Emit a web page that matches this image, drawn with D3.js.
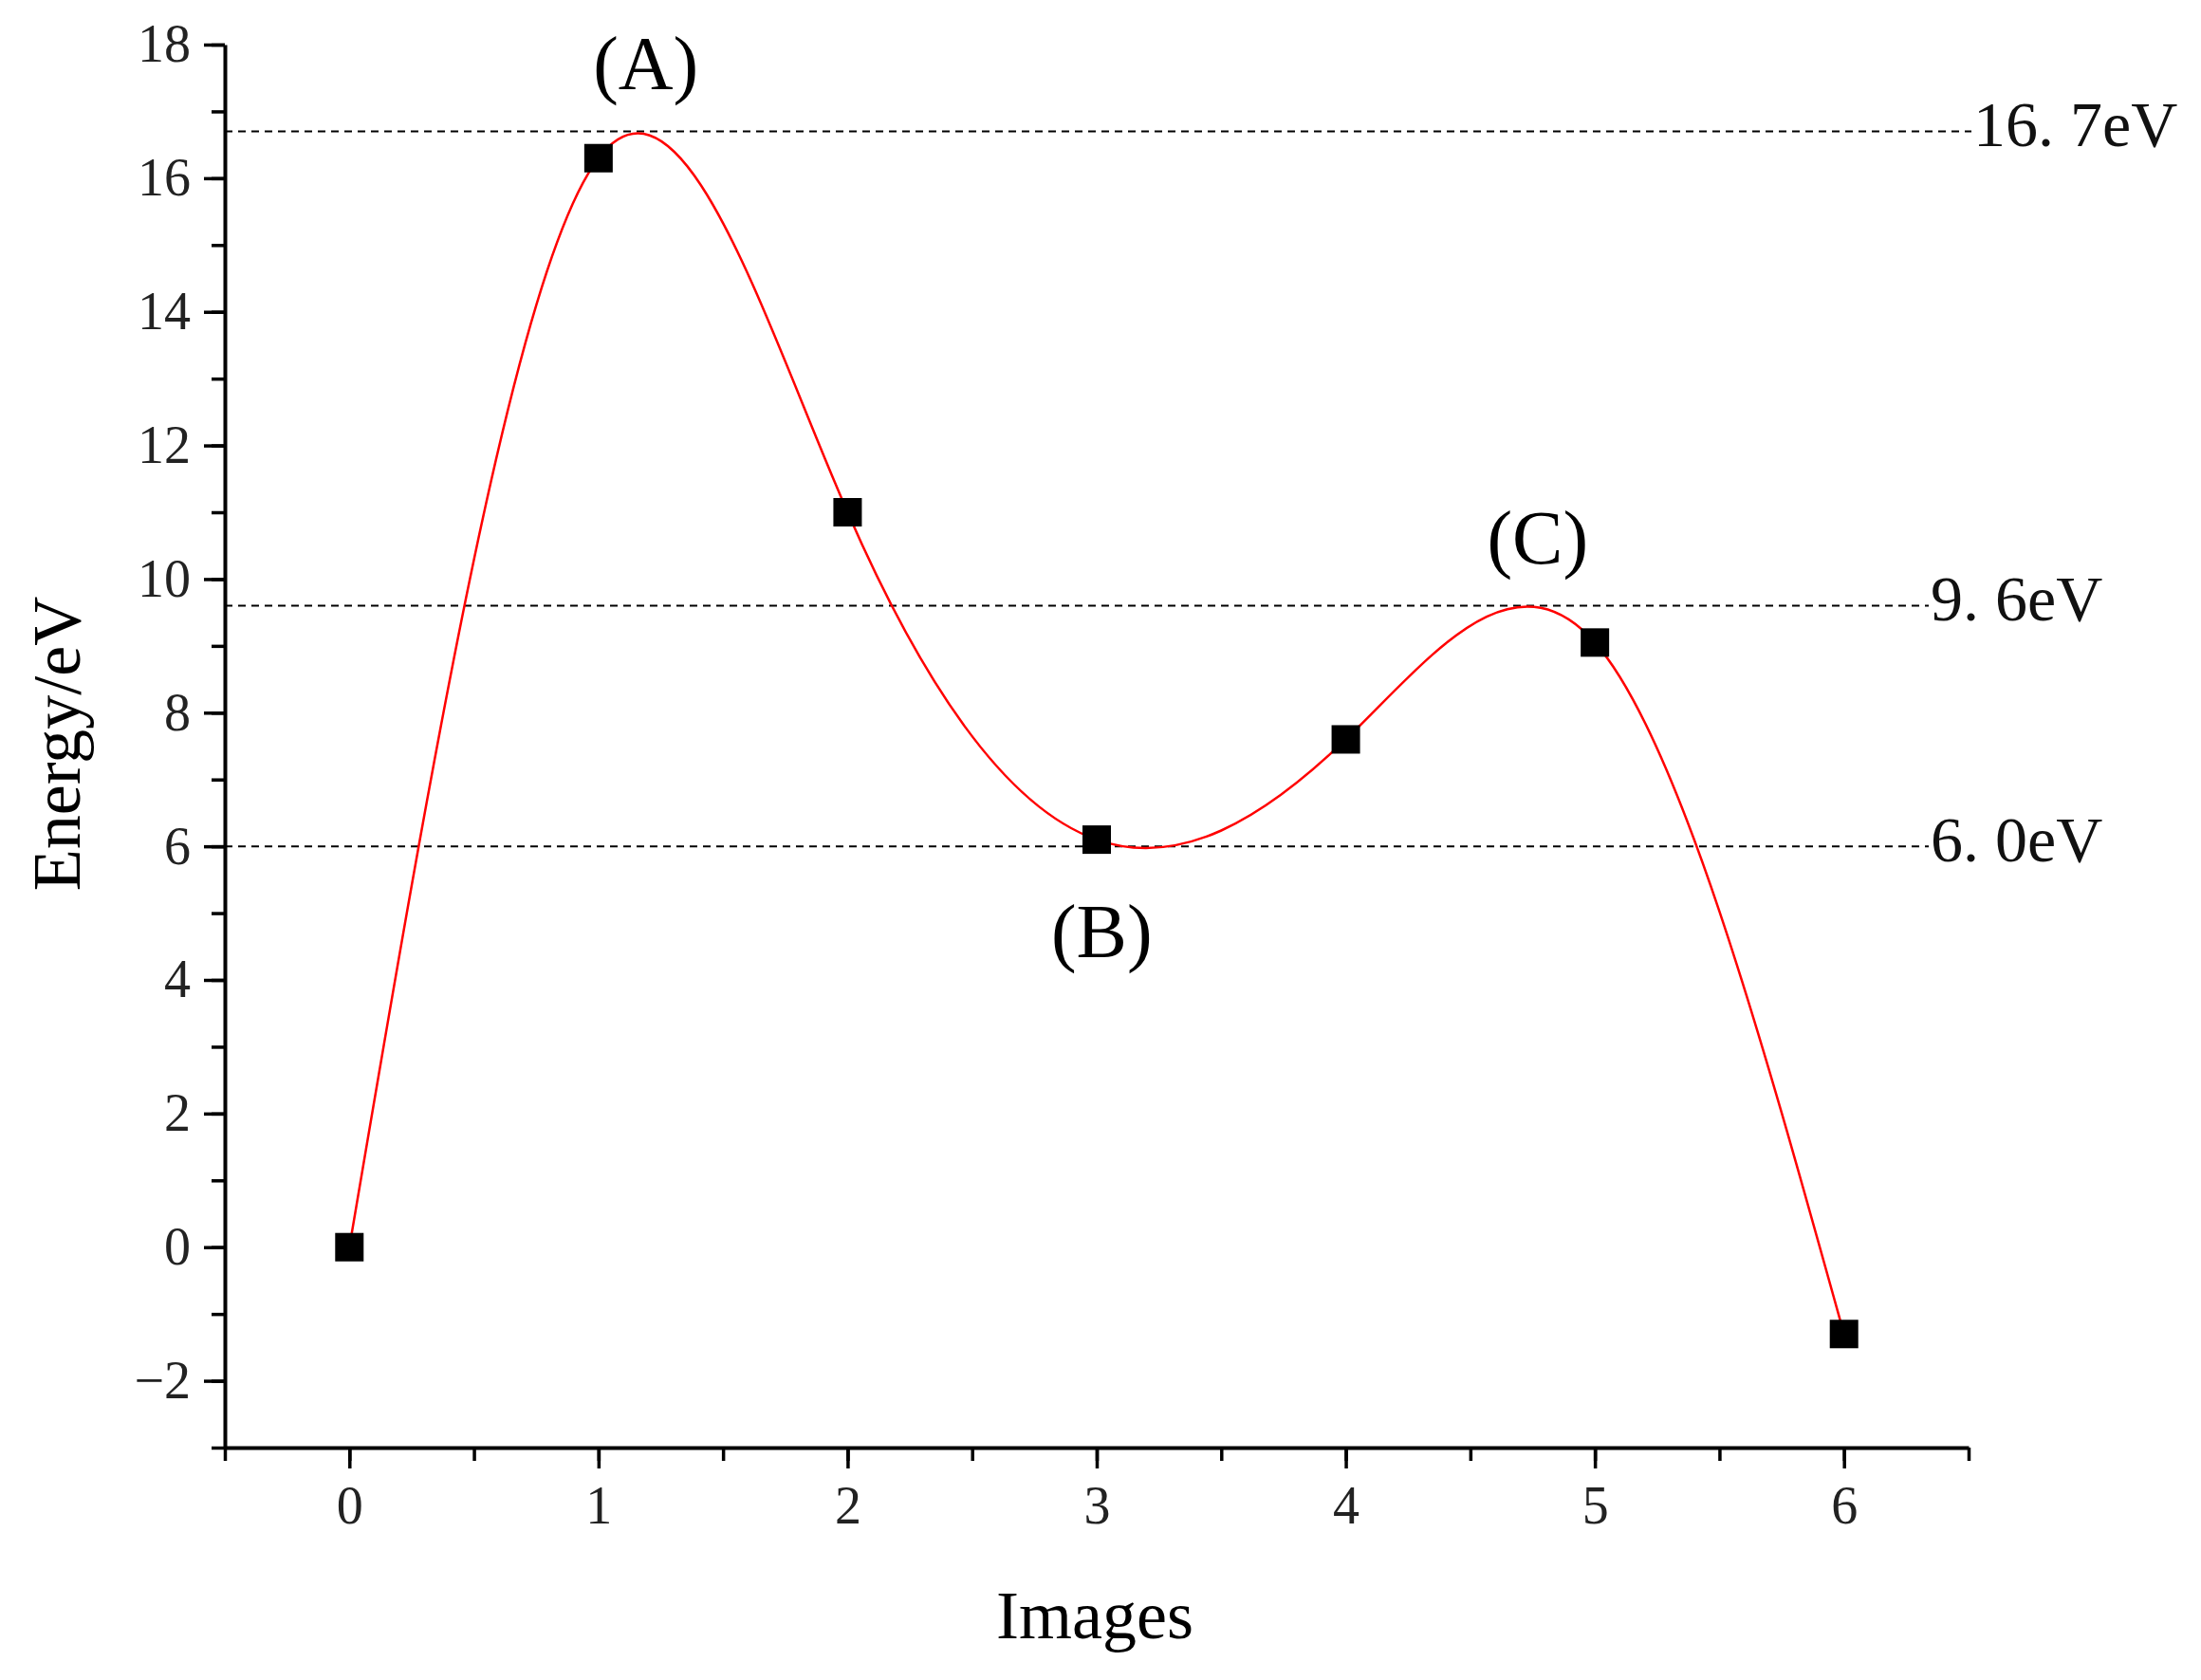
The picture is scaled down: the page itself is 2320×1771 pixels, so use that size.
<!DOCTYPE html><html><head><meta charset="utf-8"><script src="https://cdn.jsdelivr.net/npm/d3@7"></script>
<style>body{margin:0;background:#fff}</style></head><body><svg id="c" width="2320" height="1771"></svg><script>
const images=[0,1,2,3,4,5,6];
const energy=[0,16.3,11.0,6.1,7.6,9.05,-1.3];
const refLevels=[16.7,9.6,6.0];
const refLabels=["16. 7eV","9. 6eV","6. 0eV"];
const yTicks=[-2,0,2,4,6,8,10,12,14,16,18];
const points=[{t:"(A)",x:1.19,y:17.6},{t:"(B)",x:3.02,y:4.6},{t:"(C)",x:4.77,y:10.5}];
const svg=d3.select("#c"),F="Liberation Serif";
const x=d3.scaleLinear().domain([-0.5,6.5]).range([237,2075]);
const y=d3.scaleLinear().domain([-3,18]).range([1526,47]);
svg.append("g").attr("transform","translate(0,1526)").call(d3.axisBottom(x).tickValues(d3.range(-0.5,6.51,0.5)).tickSize(14).tickFormat(""))
 .call(g=>{g.select(".domain").remove();g.selectAll("line").attr("stroke-width",3.5)});
svg.append("g").attr("transform","translate(237,0)").call(d3.axisLeft(y).tickValues(d3.range(-3,18.1,1)).tickSize(14).tickFormat(""))
 .call(g=>{g.select(".domain").remove();g.selectAll("line").attr("stroke-width",3.5)});
const xa=svg.append("g").attr("transform","translate(0,1526)").call(d3.axisBottom(x).tickValues(images).tickFormat(d3.format("d")).tickSize(22).tickPadding(18).tickSizeOuter(0));
const ya=svg.append("g").attr("transform","translate(237,0)").call(d3.axisLeft(y).tickValues(yTicks).tickSize(22).tickPadding(14).tickFormat(d=>d<0?"\u2212"+(-d):d).tickSizeOuter(0));
[xa,ya].forEach(a=>{a.select(".domain").attr("stroke-width",4);a.selectAll("line").attr("stroke-width",3.5);a.selectAll("text").attr("font-family",F).attr("font-size",56).attr("fill","#222");});
refLevels.forEach((v,i)=>{
 svg.append("line").attr("x1",237).attr("x2",i==0?2078:2033).attr("y1",y(v)).attr("y2",y(v)).attr("stroke","#000").attr("stroke-width",2).attr("stroke-dasharray","8,6");
 svg.append("text").attr("x",i==0?2080:2035).attr("y",y(v)).attr("dominant-baseline","middle").attr("font-family",F).attr("font-size",68).attr("fill","#111").text(refLabels[i]);
});
const data=images.map((d,i)=>[d,energy[i]]);
svg.append("path").attr("d",d3.line().x(d=>x(d[0])).y(d=>y(d[1])).curve(d3.curveNatural)(data)).attr("fill","none").attr("stroke","red").attr("stroke-width",2.5);
svg.selectAll("rect.m").data(data).join("rect").attr("x",d=>x(d[0])-15).attr("y",d=>y(d[1])-15).attr("width",30).attr("height",30).attr("fill","#000");
points.forEach(p=>svg.append("text").attr("x",x(p.x)).attr("y",y(p.y)).attr("text-anchor","middle").attr("dominant-baseline","middle").attr("font-family",F).attr("font-size",80).text(p.t));
svg.append("text").attr("x",1154).attr("y",1710).attr("text-anchor","middle").attr("dominant-baseline","middle").attr("font-family",F).attr("font-size",72).text("Images");
svg.append("text").attr("transform","translate(67,784) rotate(-90)").attr("text-anchor","middle").attr("dominant-baseline","middle").attr("font-family",F).attr("font-size",72).text("Energy/eV");
</script></body></html>
